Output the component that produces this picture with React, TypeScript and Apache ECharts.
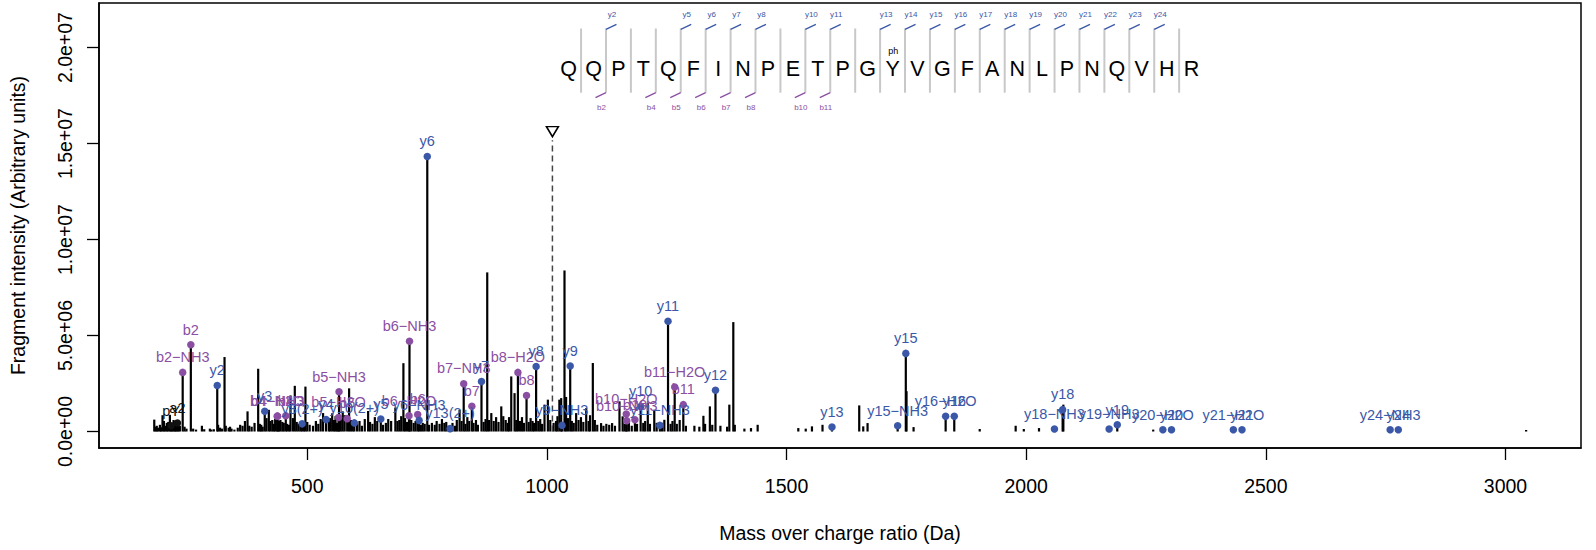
import React, { useEffect, useRef } from "react";
import * as echarts from "echarts";

// ---------- data ----------
// unannotated fragment peaks: [m/z, intensity]
const peaks: [number, number][] = [
  [180.8, 0.62e6], [183.5, 0.25e6], [186, 0.3e6], [189, 0.2e6], [192.6, 0.35e6], [195, 0.22e6],
  [198, 0.85e6], [201, 0.55e6], [204, 0.3e6], [207, 0.45e6], [210, 0.5e6], [213.4, 0.87e6],
  [218.3, 0.4e6], [221, 0.6e6], [223.8, 0.55e6], [226, 0.35e6], [231, 0.4e6], [234.2, 0.3e6],
  [244, 0.25e6], [248, 0.15e6], [262, 0.15e6], [268, 0.1e6], [280.2, 0.3e6], [285, 0.12e6],
  [296.8, 0.15e6], [300, 0.1e6], [305, 0.12e6], [314, 0.35e6], [318, 0.2e6], [322, 0.15e6],
  [327.4, 3.88e6], [330, 0.3e6], [336, 0.2e6], [339, 0.25e6], [342, 0.15e6], [348, 0.1e6],
  [355, 0.2e6], [360, 0.35e6], [365, 0.3e6], [370, 0.55e6], [375.4, 1.05e6], [379, 0.3e6],
  [384, 0.25e6], [390, 0.45e6], [397.6, 3.27e6], [401, 0.4e6], [404, 0.35e6], [407, 0.25e6],
  [415, 0.7e6], [419.8, 1.13e6], [423, 0.55e6], [427, 0.6e6], [430, 0.4e6], [433, 0.65e6],
  [441, 0.55e6], [444, 0.6e6], [448, 0.5e6], [451, 0.45e6], [458, 0.4e6], [462, 0.35e6],
  [465, 1.88e6], [470, 0.7e6], [474, 2.38e6], [478, 0.5e6], [482, 0.4e6], [486, 0.3e6],
  [493, 0.45e6], [496.2, 2.34e6], [500, 0.5e6], [505, 0.35e6], [512, 0.3e6], [518, 0.55e6],
  [523, 0.4e6], [528, 0.65e6], [533, 0.96e6], [545, 0.5e6], [548, 0.7e6], [552, 0.95e6],
  [556, 0.6e6], [559, 0.8e6], [562, 0.45e6], [570, 0.7e6], [574, 1.05e6], [578, 0.85e6],
  [587.3, 2.25e6], [591, 0.6e6], [595, 0.35e6], [604, 0.4e6], [609, 0.55e6], [614, 0.3e6],
  [620, 0.65e6], [627, 1.07e6], [631, 0.5e6], [636, 0.4e6], [641, 0.75e6], [646, 0.55e6],
  [658, 0.35e6], [664, 0.45e6], [669, 0.65e6], [675, 0.55e6], [683.8, 1.25e6], [688, 0.55e6],
  [692, 0.6e6], [696, 0.8e6], [700.6, 3.56e6], [704, 0.7e6], [708, 0.5e6], [717, 0.6e6],
  [722, 0.45e6], [726, 0.55e6], [737, 0.35e6], [741, 0.45e6], [745, 0.4e6], [754, 0.35e6],
  [760, 0.45e6], [766, 0.35e6], [770, 0.55e6], [776, 0.4e6], [781, 0.65e6], [786, 0.45e6],
  [790, 0.5e6], [795, 0.3e6], [803, 0.45e6], [808, 0.3e6], [812, 0.6e6], [817.8, 1.13e6],
  [822, 0.55e6], [830, 0.4e6], [834, 0.75e6], [838, 0.55e6], [847, 0.45e6], [852, 0.6e6],
  [856, 0.35e6], [868, 0.5e6], [872, 0.65e6], [875.5, 8.29e6], [879, 0.6e6], [884, 0.96e6],
  [889, 0.55e6], [894, 0.75e6], [899, 0.5e6], [904.8, 1.31e6], [909, 0.8e6], [914, 0.6e6],
  [918, 0.45e6], [921, 0.75e6], [925.6, 2.87e6], [932.5, 2.0e6], [936, 0.6e6], [944, 0.55e6],
  [948, 0.75e6], [952, 0.45e6], [962, 0.5e6], [966, 0.7e6], [970, 0.55e6], [973, 0.45e6],
  [982, 0.55e6], [986, 0.65e6], [990, 0.4e6], [995, 1.4e6], [1002, 1.66e6], [1007, 0.6e6],
  [1014, 0.45e6], [1019, 0.55e6], [1022, 0.8e6], [1026, 1.66e6], [1029.8, 1.74e6], [1036.7, 8.39e6],
  [1040, 1.8e6], [1044, 0.7e6], [1052, 0.55e6], [1056, 0.45e6], [1061, 0.96e6], [1066, 0.6e6],
  [1071, 0.75e6], [1076, 0.5e6], [1082, 1.22e6], [1087, 0.55e6], [1090, 0.85e6], [1095.8, 3.57e6],
  [1100, 0.6e6], [1105, 0.35e6], [1113, 0.44e6], [1118, 0.3e6], [1124, 0.4e6], [1130, 0.35e6],
  [1136, 0.44e6], [1142, 0.3e6], [1151.4, 1.57e6], [1158, 0.79e6], [1162, 0.4e6], [1171, 0.45e6],
  [1177, 0.3e6], [1188, 0.4e6], [1201, 0.45e6], [1205, 0.55e6], [1210.5, 1.48e6], [1215, 0.4e6],
  [1224, 1.13e6], [1229, 0.45e6], [1240, 0.45e6], [1245, 0.61e6], [1258, 0.4e6], [1262, 0.55e6],
  [1271, 0.4e6], [1277, 0.6e6], [1290, 0.3e6], [1307.7, 0.3e6], [1318, 0.25e6], [1326.5, 0.82e6],
  [1330, 0.4e6], [1340, 1.31e6], [1345, 0.35e6], [1362, 0.3e6], [1376, 0.25e6], [1380.6, 1.4e6],
  [1388.9, 5.7e6], [1392, 0.35e6], [1412, 0.15e6], [1425.8, 0.18e6], [1439.7, 0.35e6], [1524.5, 0.18e6],
  [1540, 0.15e6], [1553, 0.27e6], [1575, 0.35e6], [1651.6, 1.36e6], [1660, 0.27e6], [1669, 0.44e6],
  [1750.3, 2.1e6], [1765, 0.23e6], [1903, 0.13e6], [1978, 0.3e6], [1995, 0.13e6], [2026.7, 0.18e6],
  [2077.5, 1.4e6], [2265, 0.1e6], [3043, 0.08e6],
];

// y-type fragment ions (blue)
const yIonLabels = [
  "y2", "y3", "y8(2+)", "y4", "y10(2+)", "y5", "y6−NH3", "y6", "y13(2+)", "y7", "y8", "y9−NH3", "y9",
  "y10", "y11−NH3", "y11", "y12", "y13", "y15−NH3", "y15", "y16−H2O", "y16", "y18−NH3", "y18",
  "y19−NH3", "y19", "y20−H2O", "y20", "y21−H2O", "y21", "y24−NH3", "y24",
];
const yIonMz = [
  312.2, 411.3, 489.3, 539.3, 598.3, 653.4, 733.4, 750.4, 797.9, 863.5, 977.5, 1031.5, 1048.6,
  1195.6, 1235.6, 1252.7, 1351.7, 1594.8, 1731.8, 1748.8, 1831.9, 1849.9, 2058.9, 2076.0,
  2173.0, 2190.0, 2285.1, 2303.1, 2432.2, 2450.2, 2759.3, 2776.3,
];
const yIonInt = [
  2.4e6, 1.05e6, 0.4e6, 0.62e6, 0.45e6, 0.65e6, 0.58e6, 14.33e6, 0.15e6, 2.6e6, 3.39e6, 0.32e6, 3.41e6,
  1.3e6, 0.32e6, 5.74e6, 2.15e6, 0.23e6, 0.3e6, 4.07e6, 0.79e6, 0.79e6, 0.13e6, 1.14e6,
  0.13e6, 0.35e6, 0.09e6, 0.09e6, 0.09e6, 0.09e6, 0.09e6, 0.09e6,
];

// b-type fragment ions (purple)
const bIonLabels = [
  "b2−NH3", "b2", "b4−H2O", "b4−NH3", "b4", "b5−H2O", "b5−NH3", "b5", "b6−H2O", "b6−NH3", "b6",
  "b7−NH3", "b7", "b8−H2O", "b8", "b10−H2O", "b10−NH3", "b10", "b11−H2O", "b11",
];
const bIonMz = [
  240.1, 257.1, 437.2, 438.2, 455.2, 565.3, 566.3, 583.3, 712.3, 713.3, 730.4,
  826.4, 843.4, 939.5, 957.5, 1165.6, 1166.6, 1183.6, 1266.6, 1284.6,
];
const bIonInt = [
  3.08e6, 4.52e6, 0.8e6, 0.8e6, 0.82e6, 0.73e6, 2.07e6, 0.67e6, 0.82e6, 4.7e6, 0.89e6,
  2.49e6, 1.31e6, 3.08e6, 1.87e6, 0.91e6, 0.56e6, 0.61e6, 2.32e6, 1.4e6,
];

// other annotated ions (black)
const otherIonLabels = ["pY", "a2"];
const otherIonMz = [216.0, 229.1];
const otherIonInt = [0.3e6, 0.44e6];

// precursor marker
const precursorMz = 1011.5;
const precursorLineTop = 15.18e6;
const precursorMark = 15.62e6;

// axes
const xTicks = [500, 1000, 1500, 2000, 2500, 3000];
const xTickLabels = ["500", "1000", "1500", "2000", "2500", "3000"];
const yTicks = [0, 5e6, 1e7, 1.5e7, 2e7];
const yTickLabels = ["0.0e+00", "5.0e+06", "1.0e+07", "1.5e+07", "2.0e+07"];
const xRange = [65.5, 3157.5];
const yRange = [-0.8586e6, 22.3236e6];

// peptide sequence with observed fragmentation sites
const sequenceLetters = ["Q", "Q", "P", "T", "Q", "F", "I", "N", "P", "E", "T", "P", "G", "Y", "V", "G", "F", "A", "N", "L", "P", "N", "Q", "V", "H", "R"];
const modifiedPosition = 14;
const modificationLabel = "ph";
const ySites = [2, 5, 6, 7, 8, 10, 11, 13, 14, 15, 16, 17, 18, 19, 20, 21, 22, 23, 24];
const bSites = [2, 4, 5, 6, 7, 8, 10, 11];

const BLUE = "#3a58a7";
const PURPLE = "#8a4fa2";
const FONT = "'Liberation Sans', Arial, Helvetica, sans-serif";

function buildSequenceGraphic() {
  const els: any[] = [];
  const x0 = 568.6;
  const step = 24.92;
  const sepTop = 28.5;
  const sepBottom = 92.7;
  for (let k = 1; k < sequenceLetters.length; k++) {
    const sx = x0 + (k - 0.5) * step;
    els.push({
      type: "line",
      silent: true,
      shape: { x1: sx, y1: sepTop, x2: sx, y2: sepBottom },
      style: { stroke: "#c8c8c8", lineWidth: 2 },
    });
  }
  sequenceLetters.forEach((ch, i) => {
    els.push({
      type: "text",
      silent: true,
      x: x0 + i * step,
      y: 69,
      style: { text: ch, fill: "#000", fontSize: 21.5, fontFamily: FONT, align: "center", verticalAlign: "middle" },
    });
  });
  els.push({
    type: "text",
    silent: true,
    x: x0 + (modifiedPosition - 1) * step + 0.8,
    y: 50.5,
    style: { text: modificationLabel, fill: "#000", fontSize: 9, fontFamily: FONT, align: "center", verticalAlign: "middle" },
  });
  ySites.forEach((k) => {
    const sx = x0 + (k - 0.5) * step;
    els.push({
      type: "line",
      silent: true,
      shape: { x1: sx, y1: sepTop + 0.8, x2: sx + 10.5, y2: sepTop - 4.2 },
      style: { stroke: BLUE, lineWidth: 1.3 },
    });
    els.push({
      type: "text",
      silent: true,
      x: sx + 6,
      y: 14,
      style: { text: "y" + k, fill: BLUE, fontSize: 8, fontFamily: FONT, align: "center", verticalAlign: "middle" },
    });
  });
  bSites.forEach((k) => {
    const sx = x0 + (k - 0.5) * step;
    els.push({
      type: "line",
      silent: true,
      shape: { x1: sx, y1: sepBottom, x2: sx - 10.5, y2: sepBottom + 5 },
      style: { stroke: PURPLE, lineWidth: 1.3 },
    });
    els.push({
      type: "text",
      silent: true,
      x: sx - 4.5,
      y: 107,
      style: { text: "b" + k, fill: PURPLE, fontSize: 8, fontFamily: FONT, align: "center", verticalAlign: "middle" },
    });
  });
  return els;
}

export default function App() {
  const ref = useRef<HTMLDivElement>(null);

  useEffect(() => {
    if (!ref.current) return;
    const chart = echarts.init(ref.current, null, { renderer: "svg" });

    const ionSticks: [number, number][] = [];
    yIonMz.forEach((m, i) => ionSticks.push([m, yIonInt[i]]));
    bIonMz.forEach((m, i) => ionSticks.push([m, bIonInt[i]]));
    otherIonMz.forEach((m, i) => ionSticks.push([m, otherIonInt[i]]));
    const allSticks = peaks.concat(ionSticks);

    const ionSeries = (labels: string[], mz: number[], ints: number[], color: string) => ({
      type: "scatter",
      symbol: "circle",
      symbolSize: 7.5,
      itemStyle: { color, opacity: 1 },
      emphasis: { disabled: true },
      z: 5,
      data: mz.map((m, i) => ({ value: [m, ints[i]], name: labels[i] })),
      label: {
        show: true,
        position: "top",
        distance: 4,
        formatter: "{b}",
        color,
        opacity: 1,
        fontSize: 14.5,
        fontFamily: FONT,
      },
      labelLayout: { hideOverlap: false },
    });

    chart.setOption({
      animation: false,
      backgroundColor: "#fff",
      grid: {
        left: 98,
        right: 15,
        top: 3,
        bottom: 102,
        show: true,
        borderColor: "#000",
        borderWidth: 1.5,
        containLabel: false,
      },
      xAxis: {
        type: "value",
        min: xRange[0],
        max: xRange[1],
        name: "Mass over charge ratio (Da)",
        nameLocation: "middle",
        nameGap: 75,
        nameTextStyle: { color: "#000", fontSize: 19.5, fontFamily: FONT },
        splitLine: { show: false },
        axisLine: { show: true, onZero: false, lineStyle: { color: "#000", width: 1.5 } },
        axisTick: { show: true, length: 12, customValues: xTicks, lineStyle: { color: "#000", width: 1.3 } },
        axisLabel: {
          customValues: xTicks,
          margin: 28,
          color: "#000",
          fontSize: 19.5,
          fontFamily: FONT,
          formatter: (v: number) => {
            const idx = xTicks.findIndex((t) => Math.abs(t - v) < 0.01);
            return idx >= 0 ? xTickLabels[idx] : "";
          },
        },
      },
      yAxis: {
        type: "value",
        min: yRange[0],
        max: yRange[1],
        name: "Fragment intensity (Arbitrary units)",
        nameLocation: "middle",
        nameGap: 71,
        nameTextStyle: { color: "#000", fontSize: 19.5, fontFamily: FONT },
        splitLine: { show: false },
        axisLine: { show: true, onZero: false, lineStyle: { color: "#000", width: 1.5 } },
        axisTick: { show: true, length: 12, customValues: yTicks, lineStyle: { color: "#000", width: 1.3 } },
        axisLabel: {
          customValues: yTicks,
          rotate: 90,
          margin: 24,
          color: "#000",
          fontSize: 19.5,
          fontFamily: FONT,
          formatter: (v: number) => {
            const idx = yTicks.findIndex((t) => Math.abs(t - v) < 1);
            return idx >= 0 ? yTickLabels[idx] : "";
          },
        },
      },
      graphic: buildSequenceGraphic(),
      series: [
        {
          type: "custom",
          z: 2,
          silent: true,
          data: allSticks,
          encode: { x: 0, y: 1 },
          renderItem: (params: any, api: any) => {
            const x = api.value(0);
            const y = api.value(1);
            const p0 = api.coord([x, 0]);
            const p1 = api.coord([x, y]);
            return {
              type: "line",
              shape: { x1: p0[0], y1: p0[1], x2: p1[0], y2: p1[1] },
              style: { stroke: "#000", lineWidth: 2.2 },
            };
          },
        },
        {
          type: "line",
          z: 3,
          silent: true,
          symbol: "none",
          data: [
            [precursorMz, 0],
            [precursorMz, precursorLineTop],
          ],
          lineStyle: { color: "#444", width: 1.5, type: [6, 4] },
        },
        {
          type: "scatter",
          z: 4,
          silent: true,
          symbol: "path://M0,0 L12,0 L6,10 Z",
          symbolSize: [12, 10],
          itemStyle: { color: "rgba(255,255,255,0)", borderColor: "#000", borderWidth: 1.5, opacity: 1 },
          data: [[precursorMz, precursorMark]],
        },
        ionSeries(otherIonLabels, otherIonMz, otherIonInt, "#111"),
        ionSeries(bIonLabels, bIonMz, bIonInt, PURPLE),
        ionSeries(yIonLabels, yIonMz, yIonInt, BLUE),
      ],
    });

    return () => chart.dispose();
  }, []);

  return (
    <div
      ref={ref}
      style={{ position: "fixed", left: 0, top: 0, width: 1596, height: 550, background: "#fff" }}
    />
  );
}
